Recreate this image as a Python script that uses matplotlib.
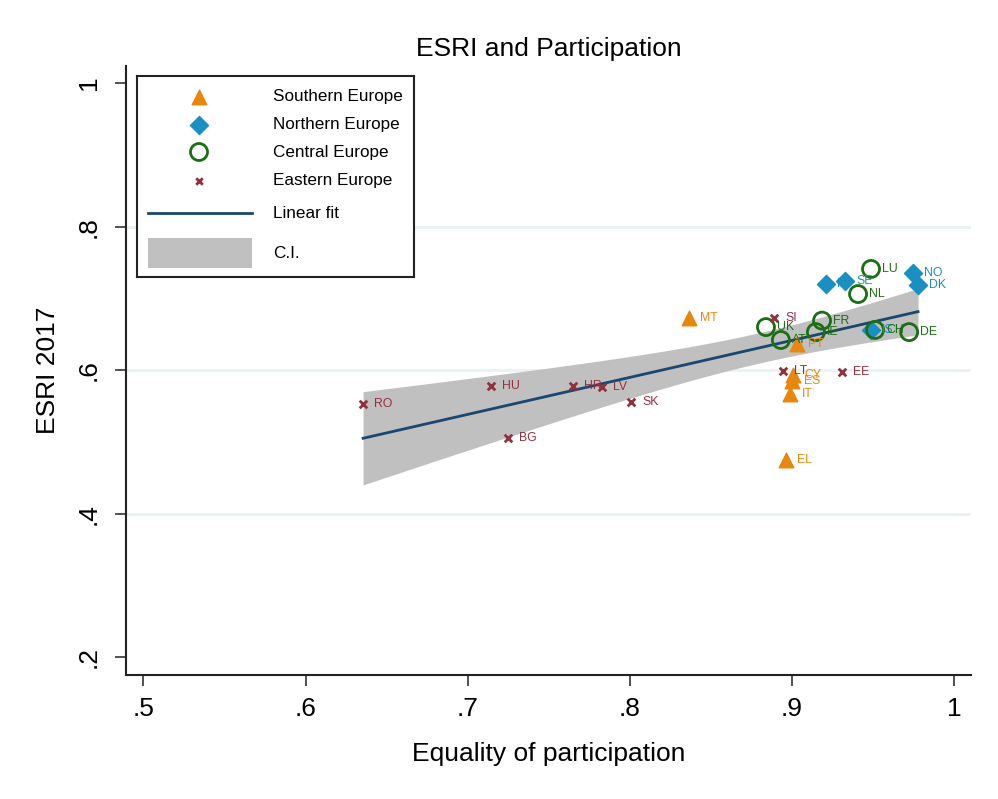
import numpy as np
import matplotlib.pyplot as plt
from matplotlib.patches import Rectangle

plt.rcParams['font.family'] = ['Liberation Sans', 'DejaVu Sans']

# equality of participation (x) and ESRI 2017 (y) by region
south_cc = ['MT', 'PT', 'CY', 'ES', 'IT', 'EL']
south_x = [0.8366, 0.9032, 0.9007, 0.9003, 0.8990, 0.8964]
south_y = [0.673, 0.637, 0.593, 0.585, 0.567, 0.475]

north_cc = ['FI', 'SE', 'NO', 'DK', 'IS']
north_x = [0.9210, 0.9327, 0.9747, 0.9778, 0.9488]
north_y = [0.720, 0.724, 0.736, 0.718, 0.656]

central_cc = ['LU', 'NL', 'FR', 'UK', 'AT', 'IE', 'CH', 'DE']
central_x = [0.9488, 0.9408, 0.9186, 0.8840, 0.8932, 0.9148, 0.9513, 0.9723]
central_y = [0.741, 0.706, 0.669, 0.660, 0.642, 0.653, 0.656, 0.653]

east_cc = ['SI', 'LT', 'EE', 'RO', 'HU', 'HR', 'LV', 'SK', 'BG']
east_x = [0.8891, 0.8946, 0.9309, 0.6355, 0.7144, 0.7650, 0.7829, 0.8008, 0.7249]
east_y = [0.672, 0.599, 0.597, 0.553, 0.578, 0.578, 0.577, 0.555, 0.505]

orange = '#e8870e'
blue = '#1a8fc1'
green = '#1b6e14'
maroon = '#93303f'
navy = '#1a476f'
ci_gray = '#c0c0c0'

south_style = dict(marker='^', color=orange)
north_style = dict(marker='D', color=blue)
central_style = dict(marker='o', facecolors='none', edgecolors=green, linewidths=2)
east_style = dict(marker='x', color=maroon, linewidths=2)

# linear fit with 95% CI for the mean
allx = np.array(south_x + north_x + central_x + east_x)
ally = np.array(south_y + north_y + central_y + east_y)
n = len(allx)
b, a = np.polyfit(allx, ally, 1)
resid = ally - (a + b * allx)
s = np.sqrt(np.sum(resid ** 2) / (n - 2))
xs = np.linspace(allx.min(), allx.max(), 100)
yhat = a + b * xs
se = s * np.sqrt(1 / n + (xs - allx.mean()) ** 2 / np.sum((allx - allx.mean()) ** 2))
t = 2.04  # t(0.975, n-2)

fig = plt.figure(figsize=(9.98, 7.99), dpi=100)
ax = fig.add_axes([0.126, 0.1556, 0.847, 0.762])

for yv in [0.4, 0.6, 0.8]:
    ax.axhline(yv, color='#eaf2f3', lw=2, zorder=0)

ax.fill_between(xs, yhat - t * se, yhat + t * se, color=ci_gray, lw=0, zorder=1)
ax.plot(xs, yhat, color=navy, lw=2, zorder=2)

ax.scatter(south_x, south_y, s=110, zorder=3, **south_style)
ax.scatter(north_x, north_y, s=85, zorder=3, **north_style)
ax.scatter(central_x, central_y, s=150, zorder=3, **central_style)
ax.scatter(east_x, east_y, s=30, zorder=3, **east_style)

for cc, xs_, ys_, col in [(south_cc, south_x, south_y, orange),
                          (north_cc, north_x, north_y, blue),
                          (central_cc, central_x, central_y, green),
                          (east_cc, east_x, east_y, maroon)]:
    for c, x, y in zip(cc, xs_, ys_):
        ax.annotate(c, (x, y), xytext=(8, 0), textcoords='offset points',
                    va='center', ha='left', fontsize=8.8, color=col, zorder=4)

ax.set_xlim(0.4891, 1.0105)
ax.set_ylim(0.1757, 1.024)
ax.set_xticks([0.5, 0.6, 0.7, 0.8, 0.9, 1.0])
ax.set_xticklabels(['.5', '.6', '.7', '.8', '.9', '1'])
ax.set_yticks([0.2, 0.4, 0.6, 0.8, 1.0])
ax.set_yticklabels(['.2', '.4', '.6', '.8', '1'], rotation=90, va='center')
ax.tick_params(labelsize=19, length=8, width=1.2, color='#333333')
ax.tick_params(axis='y', pad=10)
ax.tick_params(axis='x', pad=8)
for side in ['top', 'right']:
    ax.spines[side].set_visible(False)
for side in ['left', 'bottom']:
    ax.spines[side].set_linewidth(1.5)
    ax.spines[side].set_color('#222222')

ax.set_xlabel('Equality of participation', fontsize=19, labelpad=15)
ax.set_ylabel('ESRI 2017', fontsize=19, labelpad=12)
ax.set_title('ESRI and Participation', fontsize=19, pad=7)

# legend box, laid out in its own pixel-sized axes (y runs downward)
lg = fig.add_axes([137 / 998, 1 - 277 / 799, 277 / 998, 201 / 799])
lg.set_xlim(0, 277)
lg.set_ylim(201, 0)
lg.set_xticks([])
lg.set_yticks([])
for sp in lg.spines.values():
    sp.set_linewidth(1.5)
    sp.set_color('#222222')

leg_labels = ['Southern Europe', 'Northern Europe', 'Central Europe', 'Eastern Europe',
              'Linear fit', 'C.I.']
leg_rows = [21, 49, 76, 105, 137, 177]
lg.scatter([62], [leg_rows[0]], s=110, **south_style)
lg.scatter([62], [leg_rows[1]], s=85, **north_style)
lg.scatter([62], [leg_rows[2]], s=150, **central_style)
lg.scatter([62], [leg_rows[3]], s=22, **east_style)
lg.plot([11, 115], [leg_rows[4], leg_rows[4]], color=navy, lw=2)
lg.add_patch(Rectangle((11, leg_rows[5] - 15), 104, 30, facecolor=ci_gray, edgecolor='none'))
for lab, yr in zip(leg_labels, leg_rows):
    lg.text(136, yr, lab, fontsize=12.3, va='center', ha='left')

fig.savefig('out.png', dpi=100)
